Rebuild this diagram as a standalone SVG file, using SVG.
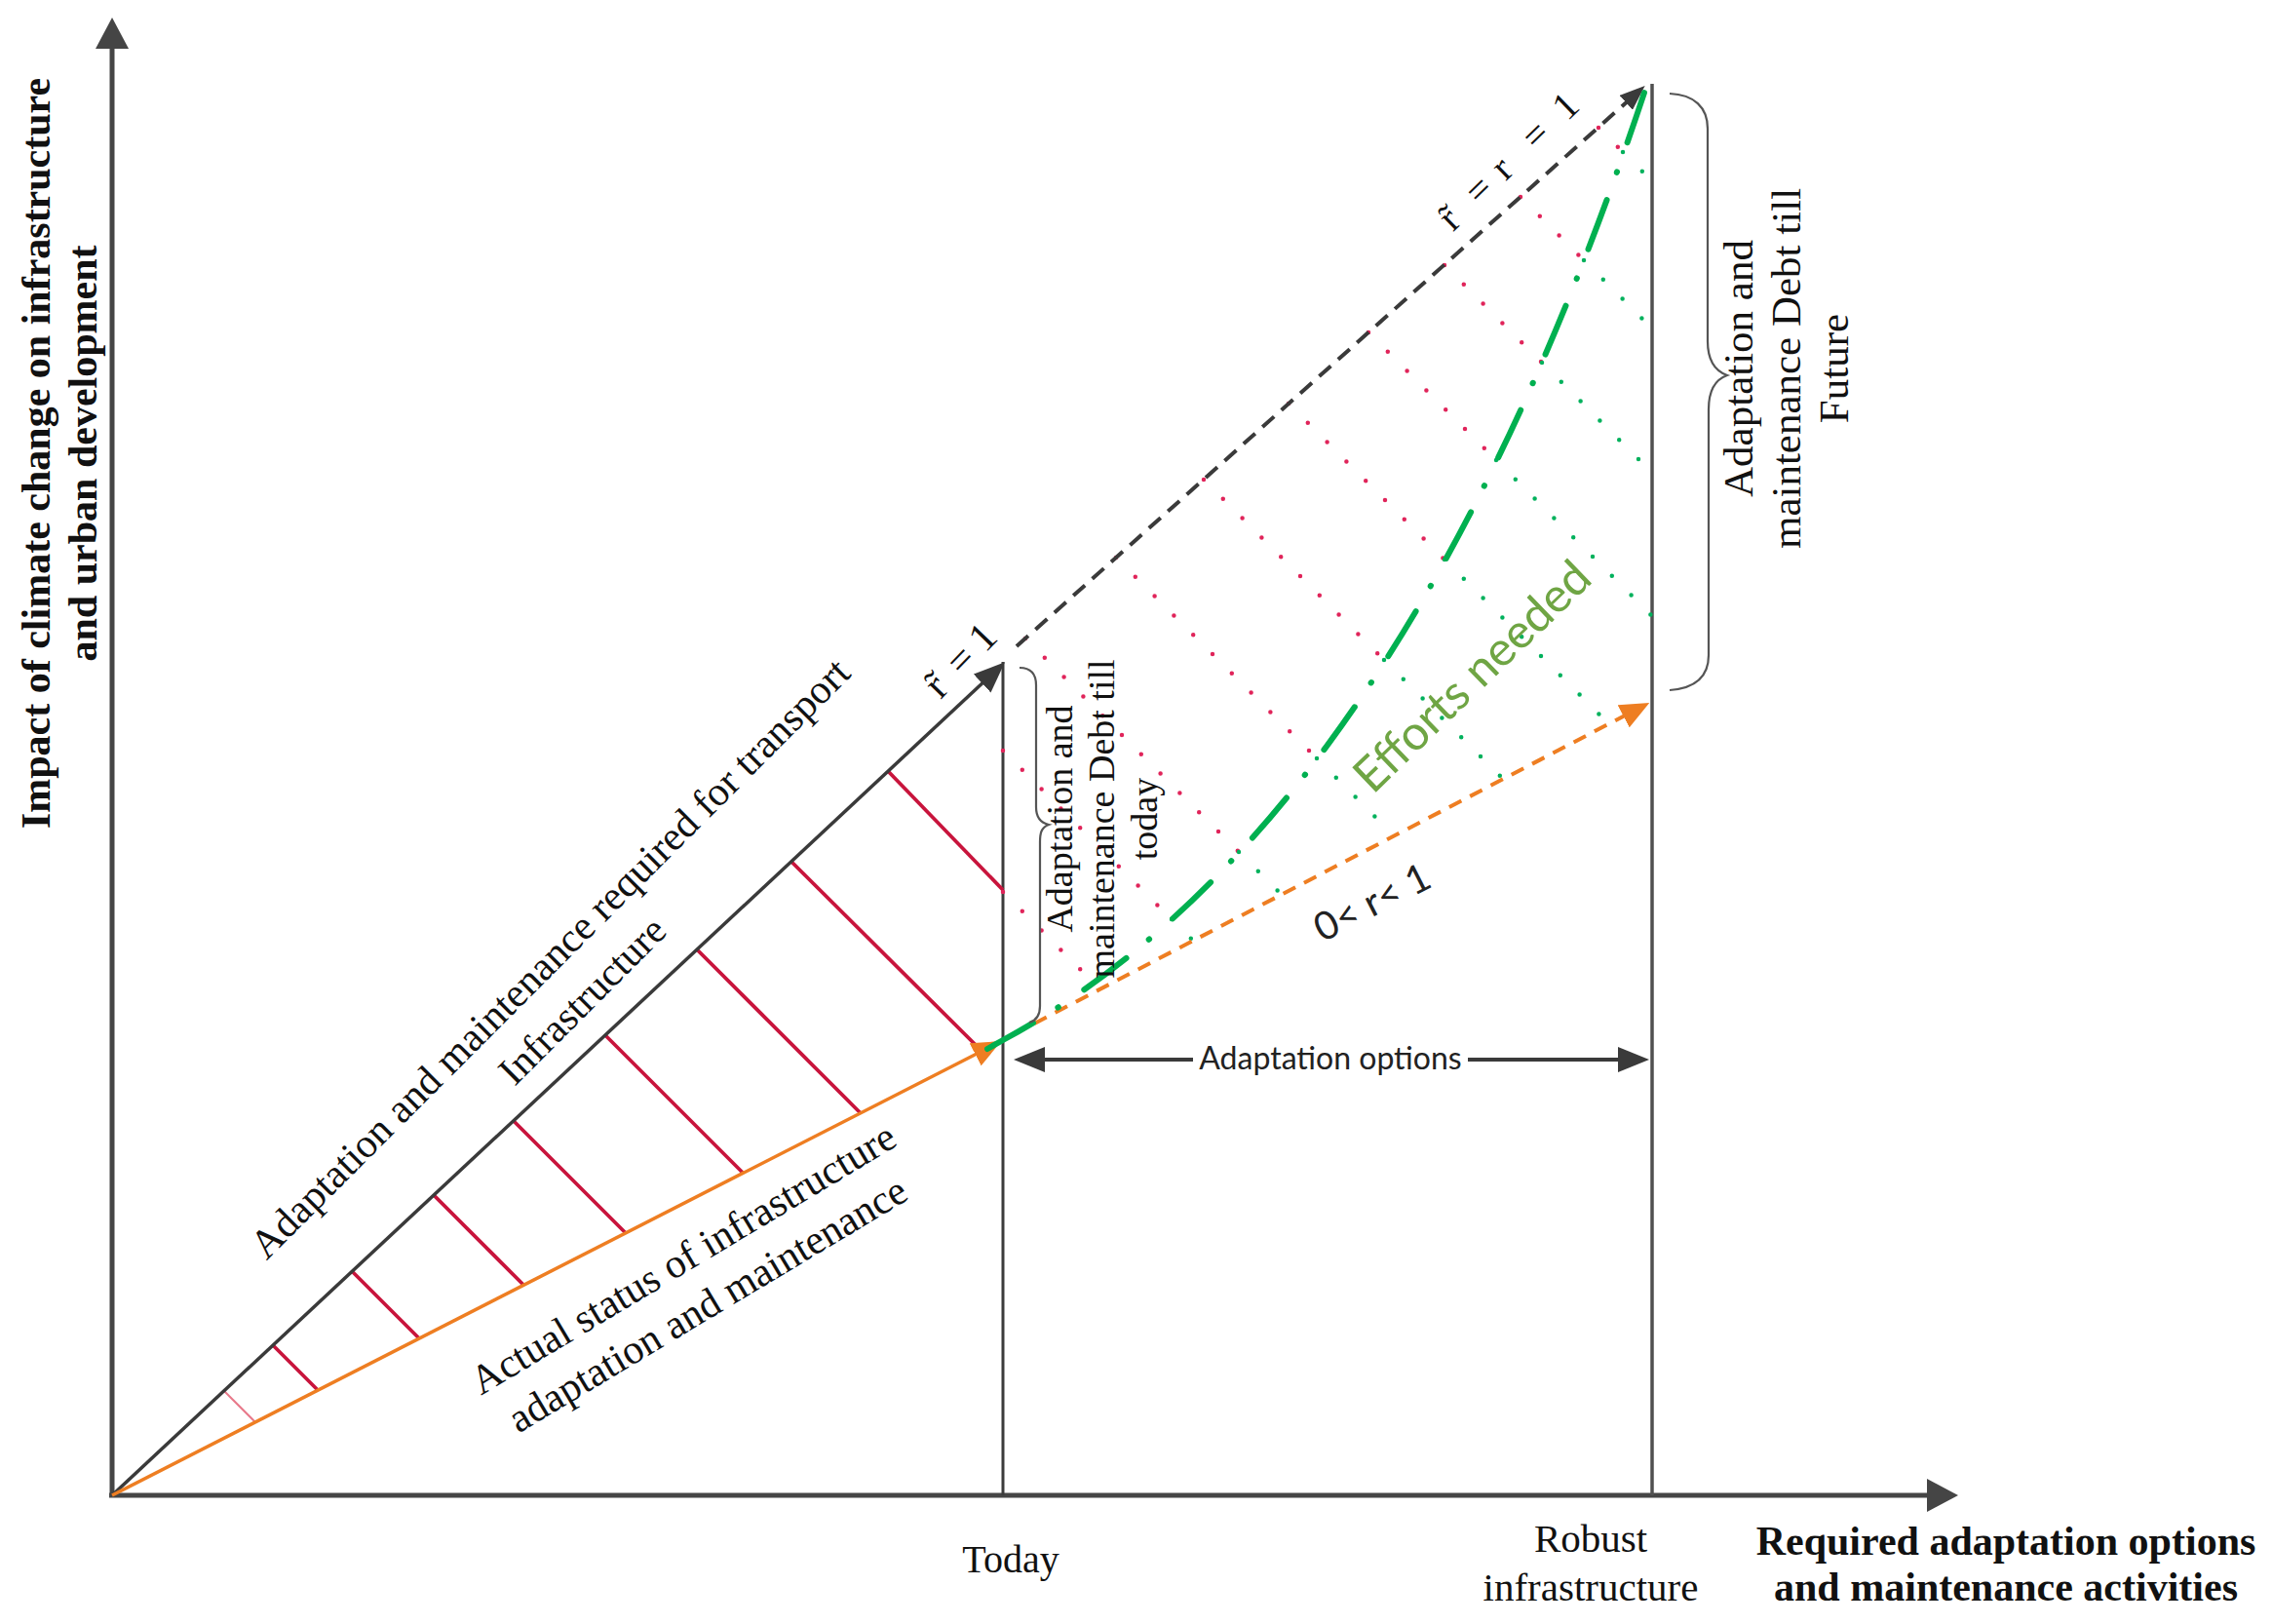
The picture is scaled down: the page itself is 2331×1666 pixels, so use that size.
<svg xmlns="http://www.w3.org/2000/svg" width="2331" height="1666" viewBox="0 0 2331 1666">
<style>
.serif{font-family:"Liberation Serif","Times New Roman",serif;fill:#111}
.sans{font-family:Lato,"Open Sans","Liberation Sans",sans-serif}
.bold{font-weight:bold}
.axis{stroke:#454545;stroke-width:5;fill:none}
.vline{stroke:#3c3c3c;stroke-width:3;fill:none}
.hatch{stroke:#C8143C;stroke-width:3.8;fill:none}
.rdot{stroke:#E0245A;stroke-width:4.5;stroke-linecap:round;stroke-dasharray:0 28;fill:none}
.gdot{stroke:#00B15C;stroke-width:4.5;stroke-linecap:round;stroke-dasharray:0 28;fill:none}
.brace{stroke:#555;stroke-width:2.2;fill:none}
</style>
<defs>
<marker id="mAxis" markerUnits="userSpaceOnUse" markerWidth="32" markerHeight="34" viewBox="0 0 32 34" refX="6" refY="17" orient="auto"><path d="M0,0 L32,17 L0,34 z" fill="#454545"/></marker>
<marker id="mDark" markerUnits="userSpaceOnUse" markerWidth="32" markerHeight="26" viewBox="0 0 32 26" refX="6" refY="13" orient="auto-start-reverse"><path d="M0,0 L32,13 L0,26 z" fill="#3a3a3a"/></marker>
<marker id="mOrange" markerUnits="userSpaceOnUse" markerWidth="30" markerHeight="26" viewBox="0 0 30 26" refX="6" refY="13" orient="auto"><path d="M0,0 L30,13 L0,26 z" fill="#EE7E22"/></marker>
<marker id="mDash" markerUnits="userSpaceOnUse" markerWidth="26" markerHeight="20" viewBox="0 0 26 20" refX="5" refY="10" orient="auto"><path d="M0,0 L26,10 L0,20 z" fill="#3a3a3a"/></marker>
</defs>
<rect width="2331" height="1666" fill="#fff"/>

<g id="axes">
<path class="axis" d="M115,1536 L115,44" marker-end="url(#mAxis)"/>
<path class="axis" d="M112,1534 L1983,1534" marker-end="url(#mAxis)"/>
<path class="vline" d="M1029,679 L1029,1534"/>
<path class="vline" d="M1695,86 L1695,1534" style="stroke:#505050;stroke-width:3.5"/>
</g>

<g id="hatching">
<path class="hatch" d="M230,1427 L262,1459" style="stroke:#E8788A;stroke-width:2"/>
<path class="hatch" d="M280,1380 L326,1426"/>
<path class="hatch" d="M361,1304 L430,1373"/>
<path class="hatch" d="M445,1226 L537,1318"/>
<path class="hatch" d="M527,1150 L642,1265"/>
<path class="hatch" d="M621,1062 L762,1203"/>
<path class="hatch" d="M715,974 L883,1142"/>
<path class="hatch" d="M812,884 L1007,1078"/>
<path class="hatch" d="M911,791 L1029,913"/>
</g>

<g id="dotted-lines">
<path class="rdot" d="M1029,915 L1122,1008"/><path class="gdot" d="M1122,1008 L1129,1015"/>
<path class="rdot" d="M1029,770 L1202,943"/><path class="gdot" d="M1202,943 L1224,965"/>
<path class="rdot" d="M1052,655 L1271,874"/><path class="gdot" d="M1271,874 L1315,918"/>
<path class="rdot" d="M1145,572 L1351,778"/><path class="gdot" d="M1351,778 L1430,857"/>
<path class="rdot" d="M1235,492 L1420,677"/><path class="gdot" d="M1420,677 L1542,799"/>
<path class="rdot" d="M1322,414 L1482,574"/><path class="gdot" d="M1482,574 L1650,742"/>
<path class="rdot" d="M1404,341 L1535,472"/><path class="gdot" d="M1535,472 L1695,632"/>
<path class="rdot" d="M1482,272 L1582,372"/><path class="gdot" d="M1582,372 L1695,485"/>
<path class="rdot" d="M1560,202 L1625,267"/><path class="gdot" d="M1625,267 L1695,337"/>
<path class="rdot" d="M1640,131 L1665,156"/><path class="gdot" d="M1665,156 L1695,186"/>
</g>

<g id="connectors">
<path id="required-line" d="M115,1534 L1012,697" stroke="#3a3a3a" stroke-width="3.5" fill="none" marker-end="url(#mDark)"/>
<path id="actual-line" d="M115,1534 L1006,1079" stroke="#EE7E22" stroke-width="3.5" fill="none" marker-end="url(#mOrange)"/>
<path id="future-required" d="M1043,663 L1672,102" stroke="#3a3a3a" stroke-width="4" stroke-dasharray="16 10" fill="none" marker-end="url(#mDash)"/>
<path id="future-actual" d="M1040,1061 L1671,732" stroke="#EE7E22" stroke-width="4" stroke-dasharray="14 10" fill="none" marker-end="url(#mOrange)"/>
<path id="efforts-curve" d="M1013,1076 L1029,1067 Q1440,845 1690,86" stroke="#00B050" stroke-width="6" stroke-linecap="round" stroke-dasharray="54 30 0.5 32" fill="none"/>
<path id="adaptation-options-arrow" d="M1066,1087 L1666,1087" stroke="#3a3a3a" stroke-width="4" fill="none" marker-start="url(#mDark)" marker-end="url(#mDark)"/>
</g>

<g id="braces">
<path class="brace" d="M1046,685 C1057,685 1063,691 1063,703 L1063,828 C1063,838 1067,844 1076,846 C1068,849 1067,855 1067,864 L1067,1032 C1067,1042 1063,1047 1056,1049"/>
<path class="brace" d="M1713,96 C1738,97 1752,110 1752,132 L1752,350 C1752,368 1758,380 1772,385 C1758,390 1753,402 1753,420 L1753,672 C1753,694 1740,706 1713,708"/>
</g>

<g id="y-axis-label" class="serif bold" font-size="42" text-anchor="middle">
<text transform="translate(51,465) rotate(-90)">Impact of climate change on infrastructure</text>
<text transform="translate(99,465) rotate(-90)">and urban development</text>
</g>

<g id="x-axis-label" class="serif bold" font-size="42" text-anchor="middle">
<text x="2058" y="1595">Required adaptation options</text>
<text x="2058" y="1642">and maintenance activities</text>
</g>

<g id="tick-labels" class="serif" font-size="41" text-anchor="middle">
<text x="1037" y="1613" font-size="40">Today</text>
<text x="1632" y="1592">Robust</text>
<text x="1632" y="1642">infrastructure</text>
</g>

<g id="required-label" class="serif" text-anchor="middle">
<text font-size="42" transform="translate(574,993) rotate(-45)">Adaptation and maintenance required for transport</text>
<text font-size="41" transform="translate(607,1036) rotate(-45)">Infrastructure</text>
</g>

<g id="actual-label" class="serif" font-size="42" text-anchor="middle">
<text transform="translate(708,1303) rotate(-31)">Actual status of infrastructure</text>
<text transform="translate(733,1350) rotate(-31)">adaptation and maintenance</text>
</g>

<g id="debt-today" class="serif" font-size="38" text-anchor="middle">
<text transform="translate(1100,840) rotate(-90)">Adaptation and</text>
<text transform="translate(1143,840) rotate(-90)">maintenance Debt till</text>
<text transform="translate(1187,840) rotate(-90)">today</text>
</g>

<g id="debt-future" class="serif" font-size="43" text-anchor="middle">
<text transform="translate(1798,378) rotate(-90)">Adaptation and</text>
<text transform="translate(1847,378) rotate(-90)">maintenance Debt till</text>
<text transform="translate(1896,378) rotate(-90)">Future</text>
</g>

<g id="r-today" class="serif" font-size="42">
<text transform="translate(990,692) rotate(-46)"><tspan x="-36">r&#771;</tspan><tspan x="-4">=</tspan><tspan x="30">1</tspan></text>
</g>

<g id="r-future" class="serif" font-size="40">
<text transform="translate(1549,182) rotate(-44)"><tspan x="-81">r&#771;</tspan><tspan x="-43">=</tspan><tspan x="-6">r</tspan><tspan x="38">=</tspan><tspan x="82">1</tspan></text>
</g>

<g id="r-range" class="sans" font-size="40" fill="#222" text-anchor="middle">
<text transform="translate(1414,938) rotate(-27)">0&lt; r&lt; 1</text>
</g>

<g id="efforts-label" class="sans" font-size="49" fill="#6FA544" text-anchor="middle">
<text transform="translate(1522,706) rotate(-44)">Efforts needed</text>
</g>

<g id="adaptation-options-label" class="sans" font-size="32" fill="#222" text-anchor="middle">
<rect x="1224" y="1068" width="282" height="38" fill="#fff"/>
<text x="1365" y="1097">Adaptation options</text>
</g>
</svg>
